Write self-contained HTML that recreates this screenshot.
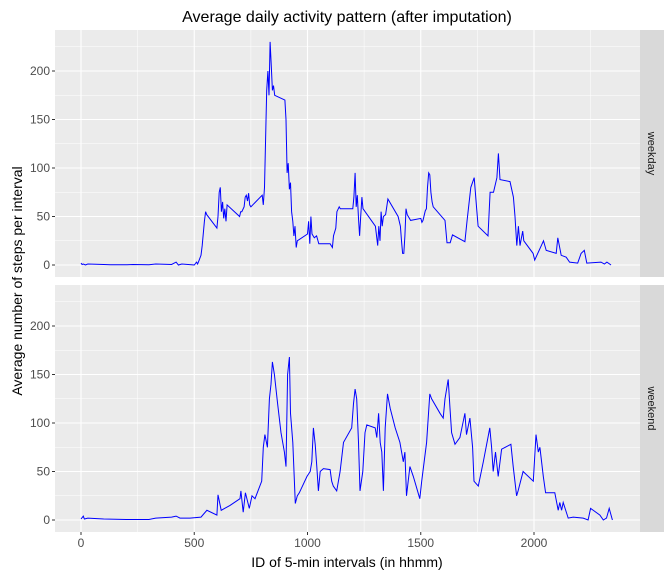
<!DOCTYPE html>
<html><head><meta charset="utf-8"><style>
body{margin:0;background:#fff;}
svg text{font-family:"Liberation Sans",sans-serif;}
</style></head><body>
<svg id="c" width="672" height="576" xmlns="http://www.w3.org/2000/svg"></svg>
<script>
const panels = ["weekday","weekend"];
const xTicks = [0,500,1000,1500,2000];
const yTicks = [0,50,100,150,200];
const weekdayX = [0,5,10,20,30,100,130,200,230,300,330,400,420,430,445,500,510,515,520,530,535,545,550,555,600,605,610,615,620,625,630,635,640,645,700,705,710,720,725,730,735,740,745,750,800,805,810,815,820,825,830,835,840,845,850,855,900,905,910,915,920,925,930,935,940,945,950,955,1000,1005,1010,1015,1020,1030,1040,1050,1100,1110,1115,1125,1130,1140,1145,1150,1200,1205,1210,1215,1220,1225,1230,1235,1240,1245,1300,1310,1315,1320,1325,1330,1335,1345,1355,1400,1410,1415,1420,1425,1430,1435,1440,1445,1455,1500,1505,1510,1520,1525,1530,1535,1540,1545,1550,1555,1607,1616,1630,1640,1695,1704,1721,1736,1748,1753,1797,1806,1821,1836,1843,1850,1894,1909,1916,1924,1931,1938,1950,1955,1996,2003,2042,2054,2098,2105,2120,2142,2157,2193,2208,2222,2233,2296,2311,2322,2340];
const weekdayY = [2,0.5,1,0,1,0.5,0.3,0.2,0.5,0.3,1,0.5,3,0,1,0,3,1,4,10,20,45,55,52,38,50,75,80,55,65,48,58,45,62,50,55,55,60,70,72,66,74,62,60,72,62,80,130,180,200,175,230,205,180,185,175,170,150,95,105,78,85,55,45,30,40,18,25,32,45,22,50,32,28,30,22,22,18,30,38,55,60,58,58,58,70,95,60,72,48,30,50,70,58,40,20,40,25,55,40,50,52,68,50,40,25,12,12,30,58,52,50,46,48,44,46,56,58,80,95,93,75,65,60,46,23,23,31,24,45,80,90,55,40,30,75,75,90,115,88,86,70,50,20,40,20,35,25,12,5,25,15,12,28,10,8,3,2,12,15,2,3,1,3,0];
const weekendX = [0,10,15,30,100,200,300,330,400,420,437,481,530,556,600,605,619,658,702,706,716,726,743,755,768,798,805,812,823,832,839,845,854,868,883,898,905,912,920,925,935,946,955,964,998,1012,1019,1026,1034,1041,1048,1056,1070,1100,1107,1114,1129,1144,1159,1195,1203,1210,1217,1225,1232,1244,1254,1262,1299,1306,1314,1321,1328,1335,1343,1353,1365,1387,1408,1423,1430,1437,1452,1467,1496,1504,1526,1540,1548,1585,1599,1607,1621,1629,1636,1651,1673,1695,1702,1717,1729,1735,1754,1776,1805,1813,1820,1830,1842,1857,1898,1908,1923,1930,1952,1997,2009,2019,2026,2041,2051,2092,2107,2114,2122,2129,2151,2173,2217,2239,2250,2291,2306,2320,2332,2346];
const weekendY = [1,4,1,2,1,0.5,0.5,2,3,4,2,2,3,10,5,26,10,15,22,30,8,28,12,25,22,40,75,88,75,125,140,163,150,120,90,70,55,150,168,110,80,17,25,28,45,50,60,95,78,55,30,50,53,52,40,35,30,50,80,95,120,135,125,80,30,50,90,98,95,85,110,80,70,30,95,130,115,95,80,60,70,25,55,45,22,40,80,130,125,110,105,125,145,115,90,78,85,110,88,105,75,40,35,60,95,75,50,70,45,73,78,55,25,30,50,40,88,70,75,45,28,28,10,18,10,18,2,3,2,0,12,5,0,2,12,0];

const NS="http://www.w3.org/2000/svg";
const svg=document.getElementById('c');
function mk(t,a,p){const e=document.createElementNS(NS,t);for(const k in a)e.setAttribute(k,a[k]);(p||svg).appendChild(e);return e;}
const L=55,R=640;
const tops=[30,285], H=247;
const xs=v=>81+v*0.2265;
function ys(i){const z=tops[i]+235;return v=>z-v*0.97;}
const series=[[weekdayX,weekdayY],[weekendX,weekendY]];
panels.forEach((p,i)=>{
  const g=mk('g',{});
  
  
  const y=ys(i), T=tops[i];
  mk('rect',{x:L,y:T,width:R-L,height:H,fill:'#ebebeb'},g);
  [25,75,125,175,225].forEach(v=>mk('line',{x1:L,x2:R,y1:y(v),y2:y(v),stroke:'#fff','stroke-width':0.5},g));
  [250,750,1250,1750,2250].forEach(v=>mk('line',{x1:xs(v),x2:xs(v),y1:T,y2:T+H,stroke:'#fff','stroke-width':0.5},g));
  yTicks.forEach(v=>{mk('line',{x1:L,x2:R,y1:y(v),y2:y(v),stroke:'#fff','stroke-width':1.1},g);
    mk('line',{x1:L-3,x2:L,y1:y(v),y2:y(v),stroke:'#333','stroke-width':1},g);
    const t=mk('text',{x:L-5,y:y(v)+4,'text-anchor':'end','font-size':12,fill:'#4d4d4d'},g);t.textContent=v;
    
    });
  xTicks.forEach(v=>mk('line',{x1:xs(v),x2:xs(v),y1:T,y2:T+H,stroke:'#fff','stroke-width':1.1},g));
  const [X,Y]=series[i];
  const pl=mk('polyline',{points:X.map((x,k)=>xs(x).toFixed(1)+','+y(Y[k]).toFixed(1)).join(' '),fill:'none',stroke:'#0000ff','stroke-width':1},g);
  
  
  const s=mk('rect',{x:R,y:T,width:24,height:H,fill:'#d9d9d9'},g);
  
  
  const st=mk('text',{x:R+12,y:T+H/2,'text-anchor':'middle','font-size':11,fill:'#1a1a1a',transform:`rotate(90 ${R+12} ${T+H/2})`,dy:4},g);st.textContent=p;
  
  
});
xTicks.forEach(v=>{mk('line',{x1:xs(v),x2:xs(v),y1:532,y2:535,stroke:'#333'});
  const t=mk('text',{x:xs(v),y:547,'text-anchor':'middle','font-size':12,fill:'#4d4d4d'});t.textContent=v;
  
  });
const ttl=mk('text',{x:347,y:22,'text-anchor':'middle','font-size':16,fill:'#000'});ttl.textContent='Average daily activity pattern (after imputation)';


const xl=mk('text',{x:347,y:567,'text-anchor':'middle','font-size':14,fill:'#000'});xl.textContent='ID of 5-min intervals (in hhmm)';


const yl=mk('text',{x:22,y:281,'text-anchor':'middle','font-size':14,fill:'#000',transform:'rotate(-90 22 281)'});yl.textContent='Average number of steps per interval';


</script>
</body></html>
